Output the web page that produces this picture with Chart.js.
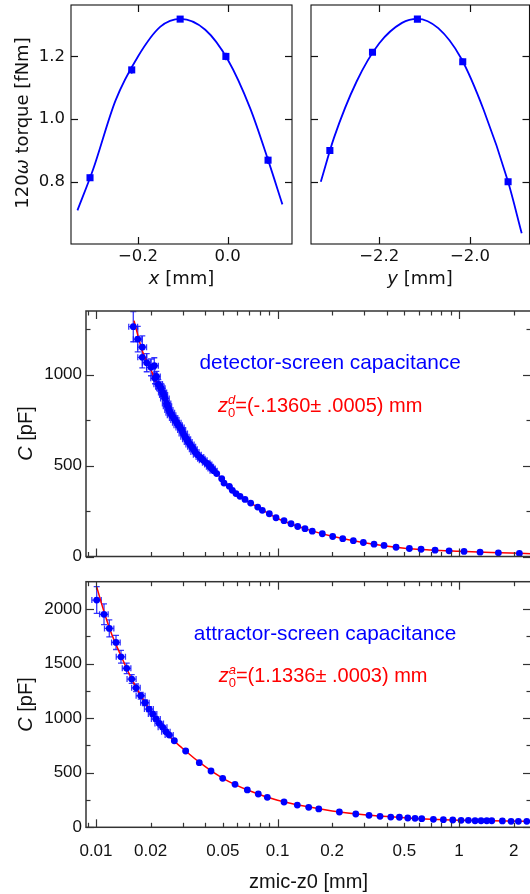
<!DOCTYPE html>
<html><head><meta charset="utf-8">
<script src="https://cdn.jsdelivr.net/npm/chart.js@4.4.1/dist/chart.umd.min.js"></script>
<style>
html,body{margin:0;padding:0;background:#fff;}
#wrap{position:relative;width:530px;height:894px;overflow:hidden;background:#fff;}
canvas{position:absolute;}
</style></head><body>
<div id="wrap">
<canvas id="c1" width="300" height="295" style="left:0;top:0"></canvas>
<canvas id="c2" width="240" height="295" style="left:300px;top:0"></canvas>
<canvas id="c3" width="545" height="270" style="left:0;top:300px"></canvas>
<canvas id="c4" width="545" height="319" style="left:0;top:575px"></canvas>
</div>
<script>
// ---------- tick values ----------
const torqueTicks = [0.8, 1.0, 1.2];
const xTickVals = [-0.2, 0.0];
const yTickVals = [-2.2, -2.0];
const zTickVals = [0.01, 0.02, 0.05, 0.1, 0.2, 0.5, 1, 2];
const zDecadeMarks = [0.01, 0.1, 1];
const zMinorMarks = [0.009, 0.02, 0.03, 0.04, 0.05, 0.06, 0.07, 0.08, 0.09, 0.2, 0.3, 0.4, 0.5, 0.6, 0.7, 0.8, 0.9, 2];
const capTicksDet = [0, 500, 1000];
const capMinorDet = [250, 750, 1250];
const capTicksAtt = [0, 500, 1000, 1500, 2000];
const capMinorAtt = [250, 750, 1250, 1750];

// ---------- x scan (top left) ----------
const xScanPos    = [-0.307, -0.214, -0.106, -0.004, 0.090];
const xScanTorque = [0.813, 1.157, 1.319, 1.200, 0.869];
const xScanErr    = [0.010, 0.012, 0.008, 0.012, 0.012];
const xFitPos     = [-0.335, -0.30, -0.25, -0.20, -0.15, -0.105, -0.05, 0.0, 0.05, 0.09, 0.122];
const xFitTorque  = [0.709, 0.84, 1.06, 1.20, 1.295, 1.320, 1.285, 1.19, 1.035, 0.87, 0.728];

// ---------- y scan (top right) ----------
const yScanPos    = [-2.309, -2.215, -2.116, -2.016, -1.916];
const yScanTorque = [0.900, 1.213, 1.319, 1.183, 0.800];
const yScanErr    = [0.010, 0.008, 0.008, 0.010, 0.010];
const yFitPos     = [-2.329, -2.30, -2.25, -2.20, -2.15, -2.116, -2.07, -2.02, -1.97, -1.916, -1.886];
const yFitTorque  = [0.80, 0.94, 1.12, 1.242, 1.307, 1.320, 1.29, 1.195, 1.03, 0.80, 0.636];

// ---------- detector-screen capacitance ----------
const zDet = [0.01605, 0.01698, 0.01799, 0.01799, 0.01903, 0.02009, 0.02095, 0.02114, 0.0215, 0.02205,
  0.0225, 0.02281, 0.0233, 0.0236, 0.024, 0.02452, 0.0248, 0.02524, 0.0257, 0.02612,
  0.0268, 0.02724, 0.0279, 0.02841, 0.0291, 0.02967, 0.0303, 0.03093, 0.0316, 0.03226,
  0.0330, 0.03368, 0.0344, 0.03512, 0.0362, 0.03741, 0.0381, 0.03901, 0.0405, 0.04157,
  0.0425, 0.04341, 0.0445, 0.04624, 0.04927, 0.05072, 0.05427, 0.05636, 0.05905, 0.06213,
  0.06621, 0.07117, 0.07779, 0.08247, 0.09011, 0.09811, 0.1086, 0.1187, 0.1292, 0.1417,
  0.1554, 0.1765, 0.2013, 0.2287, 0.2616, 0.297, 0.3401, 0.3861, 0.4497, 0.5323,
  0.6175, 0.7375, 0.8809, 1.065, 1.305, 1.646, 2.149];
const capDet = [1264, 1195, 1151, 1095, 1066, 1040, 1049, 980, 990, 947,
  935, 925, 902, 888, 869, 842, 826, 805, 790, 777,
  762, 750, 735, 722, 710, 695, 676, 658, 645, 630,
  616, 603, 590, 575, 560, 547, 538, 529, 515, 506,
  494, 484, 472, 456, 428, 404, 386, 364, 346, 331,
  314, 294, 272, 254, 235, 213, 197, 180, 165, 153,
  139, 125, 110, 98, 87, 77, 68, 61, 51, 44,
  40, 35, 31, 28, 24, 20, 17];
const capDetErr = [83, 70, 62, 58, 50, 46, 44, 30, 28, 26,
  25, 24, 22, 21, 20, 18, 18, 17, 16, 15,
  14, 14, 13, 13, 12, 12, 11, 11, 10, 10,
  9, 9, 8, 8, 8, 7, 7, 6, 6, 5,
  5, 5, 4, 4, 3, 3, 3, 2, 2, 2,
  2, 2, 0, 0, 0, 0, 0, 0, 0, 0,
  0, 0, 0, 0, 0, 0, 0, 0, 0, 0,
  0, 0, 0, 0, 0, 0, 0];
const zDetErr = [0.0009, 0.0009, 0.0010, 0.0010, 0.0010, 0.0011, 0.0011, 0.0011, 0.0011, 0.0012,
  0.0012, 0.0012, 0.0012, 0.0012, 0.0013, 0.0013, 0.0013, 0.0013, 0.0014, 0.0014,
  0.0014, 0.0014, 0.0015, 0.0015, 0.0015, 0.0015, 0.0016, 0.0016, 0.0016, 0.0016,
  0.0017, 0.0017, 0.0017, 0.0018, 0.0018, 0.0018, 0.0018, 0.0019, 0.0019, 0.0019,
  0.0019, 0.0020, 0.0020, 0, 0, 0, 0, 0, 0, 0,
  0, 0, 0, 0, 0, 0, 0, 0, 0, 0,
  0, 0, 0, 0, 0, 0, 0, 0, 0, 0,
  0, 0, 0, 0, 0, 0, 0];
const zDetFit   = [0.0162, 0.018, 0.02, 0.025, 0.03, 0.04, 0.05, 0.06, 0.08, 0.1, 0.15, 0.2, 0.3, 0.5, 0.7, 1, 1.5, 2.6];
const capDetFit = [1297, 1130, 1030, 815, 685, 520, 422, 342, 264, 209, 145, 111, 76, 46, 36, 29, 22, 15];

// ---------- attractor-screen capacitance ----------
const zAtt = [0.01009, 0.01107, 0.01184, 0.01289, 0.01373, 0.01476, 0.01573, 0.01662, 0.01764, 0.01862,
  0.01959, 0.02053, 0.0214, 0.02233, 0.0233, 0.0243, 0.02534, 0.027, 0.03119, 0.03707,
  0.04301, 0.04989, 0.05833, 0.06818, 0.07834, 0.08786, 0.1086, 0.1285, 0.1485, 0.1687,
  0.2191, 0.2698, 0.3192, 0.367, 0.4205, 0.469, 0.5217, 0.5722, 0.6229, 0.7218,
  0.8193, 0.9232, 1.026, 1.125, 1.225, 1.322, 1.421, 1.514, 1.732, 1.934, 2.122, 2.36];
const capAtt = [2082, 1951, 1822, 1694, 1562, 1456, 1358, 1278, 1205, 1141,
  1083, 1038, 992, 952, 916, 876, 845, 793, 699, 592,
  516, 449, 394, 342, 305, 275, 232, 204, 183, 168,
  140, 122, 110, 101, 94, 92, 85, 82, 79, 73,
  70, 67, 64, 64, 60, 60, 60, 60, 58, 55, 55, 55];
const capAttErr = [122, 95, 78, 65, 58, 48, 40, 35, 30, 25,
  22, 20, 18, 15, 14, 12, 10, 8, 5, 0,
  0, 0, 0, 0, 0, 0, 0, 0, 0, 0,
  0, 0, 0, 0, 0, 0, 0, 0, 0, 0,
  0, 0, 0, 0, 0, 0, 0, 0, 0, 0, 0, 0];
const zAttErr = [0.0006, 0.0006, 0.0007, 0.0007, 0.0008, 0.0008, 0.0009, 0.0009, 0.0010, 0.0010,
  0.0011, 0.0011, 0.0012, 0.0012, 0.0013, 0.0013, 0.0013, 0, 0, 0,
  0, 0, 0, 0, 0, 0, 0, 0, 0, 0,
  0, 0, 0, 0, 0, 0, 0, 0, 0, 0,
  0, 0, 0, 0, 0, 0, 0, 0, 0, 0, 0, 0];
const zAttFit   = [0.0101, 0.011, 0.012, 0.014, 0.016, 0.02, 0.025, 0.03, 0.04, 0.05, 0.07, 0.1, 0.15, 0.2, 0.3, 0.5, 0.7, 1, 1.5, 2.6];
const capAttFit = [2200, 1990, 1800, 1540, 1335, 1065, 845, 722, 555, 449, 335, 248, 185, 150, 115, 88, 74, 65, 60, 54];

// ---------- helpers ----------
const pts = (xs, ys) => xs.map((x, i) => ({x: x, y: ys[i]}));
const FT = 'DejaVu Sans';
const FB = 'Liberation Sans';
const BLUE = '#0000ff';
const RED = '#ff0000';
const minusFmt = v => (v < 0 ? '\u2212' : '') + Math.abs(v).toFixed(1);
const plainFmt = v => String(v);

function seg(t, font, extra) { return Object.assign({t: t, font: font}, extra || {}); }

const DECOR = {
  c1: {
    frameColor: '#111', frameWidth: 1.1, tickColor: '#111', tickWidth: 1.2, majLen: 7, minLen: 4,
    xMajor: xTickVals, xMinor: [], yMajor: torqueTicks, yMinor: [],
    errors: [{x: xScanPos, y: xScanTorque, yErr: xScanErr, color: BLUE, width: 1.5, cap: 0}],
    texts: [
      {x: 21, y: 123, rot: -90, color: '#111', base: 6.5,
       segs: [seg('120', '18px ' + FT), seg('\u03c9', 'italic 18px ' + FT), seg(' torque [fNm]', '18px ' + FT)]},
      {x: 181.5, y: 277, color: '#111', base: 6.5,
       segs: [seg('x', 'italic 18px ' + FT), seg(' [mm]', '18px ' + FT)]}
    ]
  },
  c2: {
    frameColor: '#111', frameWidth: 1.1, tickColor: '#111', tickWidth: 1.2, majLen: 7, minLen: 4,
    xMajor: yTickVals, xMinor: [], yMajor: torqueTicks, yMinor: [],
    errors: [{x: yScanPos, y: yScanTorque, yErr: yScanErr, color: BLUE, width: 1.5, cap: 0}],
    texts: [
      {x: 120, y: 277, color: '#111', base: 6.5,
       segs: [seg('y', 'italic 18px ' + FT), seg(' [mm]', '18px ' + FT)]}
    ]
  },
  c3: {
    frameColor: '#333', frameWidth: 1.5, tickColor: '#333', tickWidth: 1.2, majLen: 8, minLen: 4.5,
    xMajor: zDecadeMarks, xMinor: zMinorMarks, yMajor: capTicksDet, yMinor: capMinorDet,
    errors: [{x: zDet, y: capDet, yErr: capDetErr, xErr: zDetErr, color: 'rgba(20,20,255,0.85)', width: 1.3, cap: 3}],
    texts: [
      {x: 25, y: 133.5, rot: -90, color: '#111', base: 7,
       segs: [seg('C', 'italic 20px ' + FB), seg(' [pF]', '20px ' + FB)]},
      {data: true, x: 0.195, y: 1070, color: BLUE, base: 7,
       segs: [seg('detector-screen capacitance', '20.8px ' + FB)]},
      {data: true, x: 0.047, y: 835, color: RED, base: 7, align: 'left',
       segs: [seg('z', 'italic 20px ' + FB), seg('0', '13px ' + FB, {dy: 5}), seg('d', 'italic 13px ' + FB, {dy: -8, over: true}),
              seg('=(-.1360\u00b1 .0005) mm', '20px ' + FB)]}
    ]
  },
  c4: {
    frameColor: '#333', frameWidth: 1.5, tickColor: '#333', tickWidth: 1.2, majLen: 8, minLen: 4.5,
    xMajor: zDecadeMarks, xMinor: zMinorMarks, yMajor: capTicksAtt, yMinor: capMinorAtt,
    errors: [{x: zAtt, y: capAtt, yErr: capAttErr, xErr: zAttErr, color: 'rgba(20,20,255,0.85)', width: 1.3, cap: 3}],
    texts: [
      {x: 25, y: 129.5, rot: -90, color: '#111', base: 7,
       segs: [seg('C', 'italic 20px ' + FB), seg(' [pF]', '20px ' + FB)]},
      {x: 308.5, y: 306, color: '#111', base: 7,
       segs: [seg('zmic-z0 [mm]', '20px ' + FB)]},
      {data: true, x: 0.1827, y: 1782, color: BLUE, base: 7,
       segs: [seg('attractor-screen capacitance', '20.8px ' + FB)]},
      {data: true, x: 0.0474, y: 1395, color: RED, base: 7, align: 'left',
       segs: [seg('z', 'italic 20px ' + FB), seg('0', '13px ' + FB, {dy: 5}), seg('a', 'italic 13px ' + FB, {dy: -8, over: true}),
              seg('=(1.1336\u00b1 .0003) mm', '20px ' + FB)]}
    ]
  }
};

function line(ctx, x1, y1, x2, y2) { ctx.beginPath(); ctx.moveTo(x1, y1); ctx.lineTo(x2, y2); ctx.stroke(); }

function drawRich(ctx, t, px, py) {
  ctx.save();
  ctx.translate(px, py);
  if (t.rot) ctx.rotate(t.rot * Math.PI / 180);
  ctx.fillStyle = t.color;
  ctx.textBaseline = 'alphabetic';
  ctx.textAlign = 'left';
  let cur = 0, lastStart = 0, lastW = 0;
  const items = [];
  t.segs.forEach(s => {
    ctx.font = s.font;
    const w = ctx.measureText(s.t).width;
    if (s.over) { items.push({s: s, x: lastStart}); const adv = Math.max(lastW, w); cur = lastStart + adv; lastW = adv; }
    else { items.push({s: s, x: cur}); lastStart = cur; lastW = w; cur += w; }
  });
  const x0 = t.align === 'left' ? 0 : -cur / 2;
  items.forEach(it => { ctx.font = it.s.font; ctx.fillText(it.s.t, x0 + it.x, t.base + (it.s.dy || 0)); });
  ctx.restore();
}

const decorPlugin = {
  id: 'decor',
  beforeDatasetsDraw(chart) {
    const d = DECOR[chart.canvas.id];
    if (!d || !d.errors) return;
    const ctx = chart.ctx, a = chart.chartArea, xs = chart.scales.x, ys = chart.scales.y;
    ctx.save();
    ctx.beginPath(); ctx.rect(a.left, a.top, a.right - a.left, a.bottom - a.top); ctx.clip();
    d.errors.forEach(e => {
      ctx.strokeStyle = e.color; ctx.lineWidth = e.width;
      e.x.forEach((xv, i) => {
        const px = xs.getPixelForValue(xv), py = ys.getPixelForValue(e.y[i]);
        const ye = e.yErr ? e.yErr[i] : 0, xe = e.xErr ? e.xErr[i] : 0;
        if (ye > 0) {
          const y1 = ys.getPixelForValue(e.y[i] + ye), y2 = ys.getPixelForValue(e.y[i] - ye);
          line(ctx, px, y1, px, y2);
          if (e.cap) { line(ctx, px - e.cap, y1, px + e.cap, y1); line(ctx, px - e.cap, y2, px + e.cap, y2); }
        }
        if (xe > 0) {
          const x1 = xs.getPixelForValue(xv - xe), x2 = xs.getPixelForValue(xv + xe);
          line(ctx, x1, py, x2, py);
          if (e.cap) { line(ctx, x1, py - e.cap, x1, py + e.cap); line(ctx, x2, py - e.cap, x2, py + e.cap); }
        }
      });
    });
    ctx.restore();
  },
  afterDraw(chart) {
    const d = DECOR[chart.canvas.id];
    if (!d) return;
    const ctx = chart.ctx, a = chart.chartArea, xs = chart.scales.x, ys = chart.scales.y;
    ctx.save();
    ctx.strokeStyle = d.tickColor; ctx.lineWidth = d.tickWidth;
    const xt = (vals, L) => vals.forEach(v => {
      const p = Math.round(xs.getPixelForValue(v)) + 0.5;
      line(ctx, p, a.bottom, p, a.bottom - L); line(ctx, p, a.top, p, a.top + L);
    });
    const yt = (vals, L) => vals.forEach(v => {
      const p = Math.round(ys.getPixelForValue(v)) + 0.5;
      line(ctx, a.left, p, a.left + L, p); line(ctx, a.right, p, a.right - L, p);
    });
    xt(d.xMajor, d.majLen); xt(d.xMinor, d.minLen);
    yt(d.yMajor, d.majLen); yt(d.yMinor, d.minLen);
    ctx.strokeStyle = d.frameColor; ctx.lineWidth = d.frameWidth;
    ctx.strokeRect(a.left, a.top, a.right - a.left, a.bottom - a.top);
    ctx.restore();
    (d.texts || []).forEach(t => {
      const px = t.data ? xs.getPixelForValue(t.x) : t.x;
      const py = t.data ? ys.getPixelForValue(t.y) : t.y;
      drawRich(ctx, t, px, py);
    });
  }
};
Chart.register(decorPlugin);

const fixTicks = vals => (s => { s.ticks = vals.map(v => ({value: v})); });
const fitW = w => (s => { s.width = w; s.paddingTop = 0; s.paddingBottom = 0; s.paddingLeft = 0; s.paddingRight = 0; });
const fitH = h => (s => { s.height = h; s.paddingTop = 0; s.paddingBottom = 0; s.paddingLeft = 0; s.paddingRight = 0; });

function baseOpts(pad, xCfg, yCfg) {
  return {
    responsive: false, animation: false, devicePixelRatio: 1, events: [],
    layout: {padding: pad},
    plugins: {legend: {display: false}, tooltip: {enabled: false}, title: {display: false}},
    scales: {x: xCfg, y: yCfg}
  };
}

function axis(extra) {
  return Object.assign({
    grid: {display: false, drawTicks: false},
    border: {display: false}
  }, extra);
}

// ---------- Panel 1 ----------
new Chart(document.getElementById('c1'), {
  type: 'scatter',
  data: {datasets: [
    {data: pts(xScanPos, xScanTorque), pointStyle: 'rect', pointRadius: 5, backgroundColor: BLUE, borderWidth: 0},
    {data: pts(xFitPos, xFitTorque), showLine: true, pointRadius: 0, borderColor: BLUE, borderWidth: 1.8, cubicInterpolationMode: 'monotone', fill: false}
  ]},
  options: baseOpts({left: 0, top: 2, right: 8, bottom: 0},
    axis({type: 'linear', min: -0.3494, max: 0.1434, afterBuildTicks: fixTicks(xTickVals),
      afterFit: fitH(51),
      ticks: {autoSkip: false, maxRotation: 0, padding: 3, color: '#111', font: {family: FT, size: 16.5}, callback: minusFmt}}),
    axis({type: 'linear', min: 0.6016, max: 1.364, afterBuildTicks: fixTicks(torqueTicks),
      afterFit: fitW(71),
      ticks: {autoSkip: false, padding: 6, color: '#111', font: {family: FT, size: 16.5}, callback: minusFmt}}))
});

// ---------- Panel 2 ----------
new Chart(document.getElementById('c2'), {
  type: 'scatter',
  data: {datasets: [
    {data: pts(yScanPos, yScanTorque), pointStyle: 'rect', pointRadius: 5, backgroundColor: BLUE, borderWidth: 0},
    {data: pts(yFitPos, yFitTorque), showLine: true, pointRadius: 0, borderColor: BLUE, borderWidth: 1.8, cubicInterpolationMode: 'monotone', fill: false}
  ]},
  options: baseOpts({left: 0, top: 2, right: 10.5, bottom: 0},
    axis({type: 'linear', min: -2.3506, max: -1.8688, afterBuildTicks: fixTicks(yTickVals),
      afterFit: fitH(51),
      ticks: {autoSkip: false, maxRotation: 0, padding: 3, color: '#111', font: {family: FT, size: 16.5}, callback: minusFmt}}),
    axis({type: 'linear', min: 0.6016, max: 1.364, afterBuildTicks: fixTicks(torqueTicks),
      afterFit: fitW(11),
      ticks: {display: false}}))
});

// ---------- Panel 3 ----------
new Chart(document.getElementById('c3'), {
  type: 'scatter',
  data: {datasets: [
    {data: pts(zDet, capDet), pointStyle: 'circle', pointRadius: 3.4, backgroundColor: BLUE, borderWidth: 0},
    {data: pts(zDetFit, capDetFit), showLine: true, pointRadius: 0, borderColor: RED, borderWidth: 1.5, cubicInterpolationMode: 'monotone', fill: false}
  ]},
  options: baseOpts({left: 0, top: 11, right: 14, bottom: 0},
    axis({type: 'logarithmic', min: 0.00881, max: 2.49, afterBuildTicks: fixTicks(zTickVals),
      afterFit: fitH(13.5),
      ticks: {display: false}}),
    axis({type: 'linear', min: 0, max: 1350, afterBuildTicks: fixTicks(capTicksDet),
      afterFit: fitW(86),
      ticks: {autoSkip: false, padding: 4, color: '#111', font: {family: FB, size: 17}, callback: plainFmt}}))
});

// ---------- Panel 4 ----------
new Chart(document.getElementById('c4'), {
  type: 'scatter',
  data: {datasets: [
    {data: pts(zAtt, capAtt), pointStyle: 'circle', pointRadius: 3.4, backgroundColor: BLUE, borderWidth: 0},
    {data: pts(zAttFit, capAttFit), showLine: true, pointRadius: 0, borderColor: RED, borderWidth: 1.5, cubicInterpolationMode: 'monotone', fill: false}
  ]},
  options: baseOpts({left: 0, top: 6.7, right: 14, bottom: 0},
    axis({type: 'logarithmic', min: 0.00881, max: 2.49, afterBuildTicks: fixTicks(zTickVals),
      afterFit: fitH(66.7),
      ticks: {autoSkip: false, maxRotation: 0, padding: 13.5, color: '#111', font: {family: FB, size: 17},
        callback: plainFmt}}),
    axis({type: 'linear', min: 0, max: 2250, afterBuildTicks: fixTicks(capTicksAtt),
      afterFit: fitW(86),
      ticks: {autoSkip: false, padding: 4, color: '#111', font: {family: FB, size: 17}, callback: plainFmt}}))
});
</script>
</body></html>
